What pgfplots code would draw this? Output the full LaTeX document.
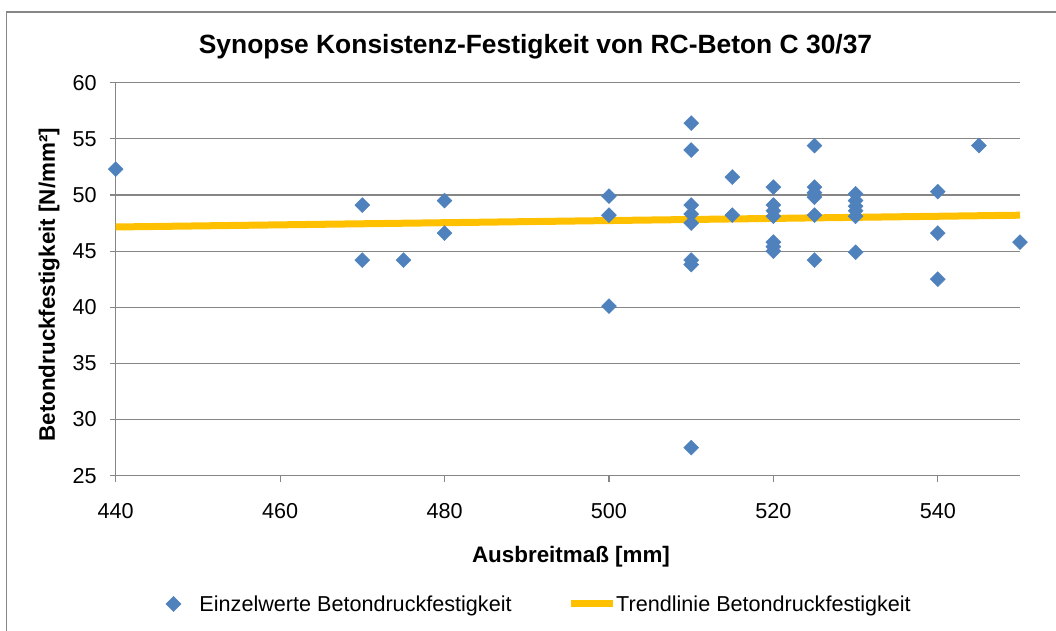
\documentclass[border=0pt]{standalone}
\usepackage{fontspec}
\setmainfont{Liberation Sans}
\usepackage{pgfplots}
\pgfplotsset{compat=1.18}
\definecolor{serieblau}{HTML}{4F81BD}
\definecolor{trendgelb}{HTML}{FFC000}
\definecolor{rahmengrau}{HTML}{868686}
\newcommand{\tickfont}{\fontsize{10.8}{13}\selectfont}
\newcommand{\labelfont}{\fontsize{11.2}{13}\selectfont\bfseries}

\pgfplotsset{
    rautelegende/.style={legend image code/.code={\path[draw=none] (-3.75pt,0pt) rectangle (13pt,0.1pt);
        \draw[##1] plot coordinates {(0pt,0.5pt)};}},
    linienlegende/.style={legend image code/.code={\draw[##1, line cap=butt] (0pt,0.5pt) -- (20.8pt,0.5pt);
        \path[draw=none] (0pt,0pt) rectangle (21.6pt,0.1pt);}},
}

\begin{document}
\begin{tikzpicture}
\useasboundingbox (-57.85pt,-77.65pt) rectangle (470.15pt,237.85pt);
\draw[rahmengrau, line width=0.65pt] (-54.6pt,-120pt) -- (-54.6pt,231.85pt) -- (520pt,231.85pt);
\begin{axis}[
    at={(0pt,0pt)}, anchor=south west,
    scale only axis,
    width=452.15pt, height=196.5pt,
    xmin=440, xmax=550,
    ymin=25, ymax=60,
    xtick={440,460,...,540},
    ytick={25,30,...,60},
    axis x line*=bottom,
    axis y line*=left,
    axis line style={rahmengrau, line width=0.6pt},
    tick style={rahmengrau, line width=0.6pt},
    major tick length=3pt,
    tick align=outside,
    ymajorgrids,
    grid style={rahmengrau, line width=0.6pt},
    /pgf/number format/assume math mode=true,
    yticklabel style={font=\tickfont, anchor=east, inner sep=0pt, xshift=-6.35pt},
    xticklabel style={font=\tickfont, anchor=north, inner sep=0pt, yshift=-10.8pt},
    clip=false,
    legend style={at={(axis description cs:0.05518,-0.3290)}, anchor=west,
        draw=none, fill=none, font=\tickfont, inner sep=0pt,
        nodes={inner sep=0pt},
        legend columns=2,
        /tikz/every even column/.append style={column sep=28pt}},
    legend cell align=left,
]
% Einzelwerte: Ausbreitmass [mm], Betondruckfestigkeit [N/mm2]
\addplot[only marks, mark=square*, mark size=2.65pt,
    mark options={rotate=45, fill=serieblau, draw=serieblau, line width=0.2pt},
    rautelegende]
    table {
x y
440 52.3
470 49.1
470 44.2
475 44.2
480 49.5
480 46.6
500 49.9
500 48.2
500 40.1
510 56.4
510 54.0
510 49.1
510 48.3
510 47.5
510 44.2
510 43.8
510 27.5
515 51.6
515 48.2
520 50.7
520 49.1
520 48.6
520 48.1
520 45.8
520 45.4
520 45.0
525 54.4
525 50.7
525 50.2
525 49.8
525 48.2
525 44.2
530 50.1
530 49.5
530 49.0
530 48.6
530 48.1
530 44.9
540 50.3
540 46.6
540 42.5
545 54.4
550 45.8
};
\addlegendentry{Einzelwerte Betondruckfestigkeit}
\addplot[no markers, trendgelb, line width=3.5pt, linienlegende]
    coordinates {(440,47.15) (550,48.2)};
\addlegendentry{Trendlinie Betondruckfestigkeit}
\end{axis}
\node[anchor=base, font=\fontsize{13.2}{15}\selectfont\bfseries] at (209.9pt,210.85pt)
    {Synopse Konsistenz-Festigkeit von RC-Beton C 30/37};
\node[anchor=base, font=\labelfont] at (227.65pt,-43.65pt) {Ausbreitmaß [mm]};
\node[anchor=base, rotate=90, font=\labelfont] at (-30.35pt,95.5pt) {Betondruckfestigkeit [N/mm²]};
\end{tikzpicture}
\end{document}
